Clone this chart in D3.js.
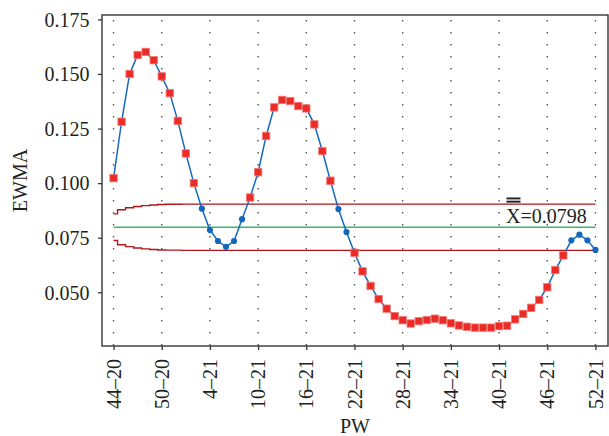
<!DOCTYPE html>
<html>
<head>
<meta charset="utf-8">
<script src="https://cdn.jsdelivr.net/npm/d3@7"></script>
<style>
  body { margin: 0; background: #fff; }
  svg { display: block; }
  text { font-family: "Liberation Serif", "DejaVu Serif", serif; fill: #231f20; }
</style>
</head>
<body>
<svg id="chart" width="609" height="436"></svg>
<script>
// Weekly EWMA chart, weeks 44-2020 to 52-2021
const weeks = [
  "44–20","45–20","46–20","47–20","48–20","49–20","50–20","51–20","52–20",
  "1–21","2–21","3–21","4–21","5–21","6–21","7–21","8–21","9–21","10–21",
  "11–21","12–21","13–21","14–21","15–21","16–21","17–21","18–21","19–21",
  "20–21","21–21","22–21","23–21","24–21","25–21","26–21","27–21","28–21",
  "29–21","30–21","31–21","32–21","33–21","34–21","35–21","36–21","37–21",
  "38–21","39–21","40–21","41–21","42–21","43–21","44–21","45–21","46–21",
  "47–21","48–21","49–21","50–21","51–21","52–21"
];

const ewma = [
  0.1023, 0.1281, 0.1500, 0.1587, 0.1601, 0.1563, 0.1489, 0.1412, 0.1285,
  0.1136, 0.1000, 0.0883, 0.0785, 0.0735, 0.0708, 0.0735, 0.0835, 0.0934, 0.1050,
  0.1216, 0.1347, 0.1381, 0.1376, 0.1353, 0.1342, 0.1269, 0.1147, 0.1011,
  0.0881, 0.0776, 0.0681, 0.0596, 0.0529, 0.0469, 0.0425, 0.0391, 0.0372,
  0.0357, 0.0368, 0.0373, 0.0379, 0.0372, 0.0358, 0.0348, 0.0342, 0.0338,
  0.0338, 0.0338, 0.0345, 0.0347, 0.0376, 0.0401, 0.0429, 0.0465, 0.0523,
  0.0602, 0.0669, 0.0738, 0.0764, 0.0738, 0.0694
];

const ucl = [
  0.0859, 0.0878, 0.0887, 0.0893, 0.0897, 0.0900, 0.0902, 0.0903, 0.0903,
  0.0904, 0.0904, 0.0904, 0.0904, 0.0904, 0.0904, 0.0904, 0.0904, 0.0904, 0.0904,
  0.0904, 0.0904, 0.0904, 0.0904, 0.0904, 0.0904, 0.0904, 0.0904, 0.0904,
  0.0904, 0.0904, 0.0904, 0.0904, 0.0904, 0.0904, 0.0904, 0.0904, 0.0904,
  0.0904, 0.0904, 0.0904, 0.0904, 0.0904, 0.0904, 0.0904, 0.0904, 0.0904,
  0.0904, 0.0904, 0.0904, 0.0904, 0.0904, 0.0904, 0.0904, 0.0904, 0.0904,
  0.0904, 0.0904, 0.0904, 0.0904, 0.0904, 0.0904
];

const lcl = [
  0.0737, 0.0718, 0.0709, 0.0703, 0.0699, 0.0696, 0.0694, 0.0693, 0.0693,
  0.0692, 0.0692, 0.0692, 0.0692, 0.0692, 0.0692, 0.0692, 0.0692, 0.0692, 0.0692,
  0.0692, 0.0692, 0.0692, 0.0692, 0.0692, 0.0692, 0.0692, 0.0692, 0.0692,
  0.0692, 0.0692, 0.0692, 0.0692, 0.0692, 0.0692, 0.0692, 0.0692, 0.0692,
  0.0692, 0.0692, 0.0692, 0.0692, 0.0692, 0.0692, 0.0692, 0.0692, 0.0692,
  0.0692, 0.0692, 0.0692, 0.0692, 0.0692, 0.0692, 0.0692, 0.0692, 0.0692,
  0.0692, 0.0692, 0.0692, 0.0692, 0.0692, 0.0692
];

const centerLine = 0.0798;
const yTicks = [0.050, 0.075, 0.100, 0.125, 0.150, 0.175];
const xTicks = ["44–20","50–20","4–21","10–21","16–21","22–21","28–21","34–21","40–21","46–21","52–21"];

// ---- layout ----
const svg = d3.select("#chart");
const plot = { left: 102, right: 608, top: 15, bottom: 346 };

const x = d3.scalePoint()
  .domain(weeks)
  .range([plot.left - 0.5, plot.right - 0.5])
  .padding(1.5);

const y = d3.scaleLinear()
  .domain([0.0254, 0.1770])
  .range([plot.bottom, plot.top]);

const rows = weeks.map((w, i) => ({
  week: w, value: ewma[i], ucl: ucl[i], lcl: lcl[i],
  out: ewma[i] > ucl[i] || ewma[i] < lcl[i]
}));

// vertical dotted grid at labelled weeks
svg.append("g")
  .selectAll("line")
  .data(xTicks)
  .join("line")
  .attr("x1", d => x(d)).attr("x2", d => x(d))
  .attr("y1", plot.top + 5).attr("y2", plot.bottom)
  .attr("stroke", "#555")
  .attr("stroke-width", 1.4)
  .attr("stroke-dasharray", "1.4,10.6");

// control limits (step lines)
const stepLine = key => d3.line()
  .x(d => x(d.week))
  .y(d => y(d[key]))
  .curve(d3.curveStep);

["ucl", "lcl"].forEach(key => {
  svg.append("path")
    .datum(rows)
    .attr("d", stepLine(key))
    .attr("fill", "none")
    .attr("stroke", "#b3131d")
    .attr("stroke-width", 1.4);
});

// centre line
svg.append("line")
  .attr("x1", x(weeks[0])).attr("x2", x(weeks[weeks.length - 1]))
  .attr("y1", y(centerLine)).attr("y2", y(centerLine))
  .attr("stroke", "#3db374")
  .attr("stroke-width", 1.6);

// EWMA line
svg.append("path")
  .datum(rows)
  .attr("d", d3.line().x(d => x(d.week)).y(d => y(d.value)))
  .attr("fill", "none")
  .attr("stroke", "#1669bd")
  .attr("stroke-width", 1.5);

// in-control points
svg.append("g")
  .selectAll("circle")
  .data(rows.filter(d => !d.out))
  .join("circle")
  .attr("cx", d => x(d.week))
  .attr("cy", d => y(d.value))
  .attr("r", 3.1)
  .attr("fill", "#1468bb");

// out-of-control points
const sq = 7.4;
svg.append("g")
  .selectAll("rect")
  .data(rows.filter(d => d.out))
  .join("rect")
  .attr("x", d => x(d.week) - sq / 2)
  .attr("y", d => y(d.value) - sq / 2)
  .attr("width", sq).attr("height", sq)
  .attr("fill", "#ec2a26")
  .attr("stroke", "#f27b77")
  .attr("stroke-width", 0.8);

// frame
svg.append("rect")
  .attr("x", plot.left).attr("y", plot.top)
  .attr("width", plot.right - plot.left)
  .attr("height", plot.bottom - plot.top)
  .attr("fill", "none")
  .attr("stroke", "#353535")
  .attr("stroke-width", 1.4);

// y axis
const yAxis = svg.append("g")
  .attr("transform", `translate(${plot.left},0)`)
  .call(d3.axisLeft(y).tickValues(yTicks).tickFormat(d3.format(".3f")).tickSize(4).tickPadding(8.5));
yAxis.select(".domain").remove();
yAxis.selectAll("line").attr("stroke", "#353535").attr("stroke-width", 1.3);
yAxis.selectAll("text")
  .attr("dy", "0.34em")
  .style("font-family", '"Liberation Serif", serif')
  .style("font-size", "20px")
  .attr("fill", "#231f20");

// x axis
const xAxis = svg.append("g")
  .attr("transform", `translate(0,${plot.bottom})`)
  .call(d3.axisBottom(x).tickValues(xTicks).tickSize(4));
xAxis.select(".domain").remove();
xAxis.selectAll("line").attr("stroke", "#353535").attr("stroke-width", 1.3);
xAxis.selectAll("text")
  .attr("transform", "rotate(-90)")
  .attr("x", -13)
  .attr("y", 0)
  .attr("dy", "0.33em")
  .style("text-anchor", "end")
  .style("font-family", '"Liberation Serif", serif')
  .style("font-size", "20px")
  .attr("fill", "#231f20");

// axis titles
svg.append("text")
  .attr("transform", `translate(27,${(plot.top + plot.bottom) / 2}) rotate(-90)`)
  .attr("text-anchor", "middle")
  .style("font-size", "20px")
  .text("EWMA");

svg.append("text")
  .attr("x", (plot.left + plot.right) / 2)
  .attr("y", 433)
  .attr("text-anchor", "middle")
  .style("font-size", "20px")
  .text("PW");

// centre value annotation (X double-bar)
const ann = svg.append("g").attr("transform", "translate(506,223)");
ann.append("text")
  .attr("x", 0).attr("y", 0)
  .style("font-size", "20px")
  .text("X=" + centerLine.toFixed(4));
[-25.5, -22.3].forEach(dy => {
  ann.append("rect")
    .attr("x", 0.5).attr("y", dy)
    .attr("width", 14).attr("height", 1.9)
    .attr("fill", "#231f20");
});
</script>
</body>
</html>
